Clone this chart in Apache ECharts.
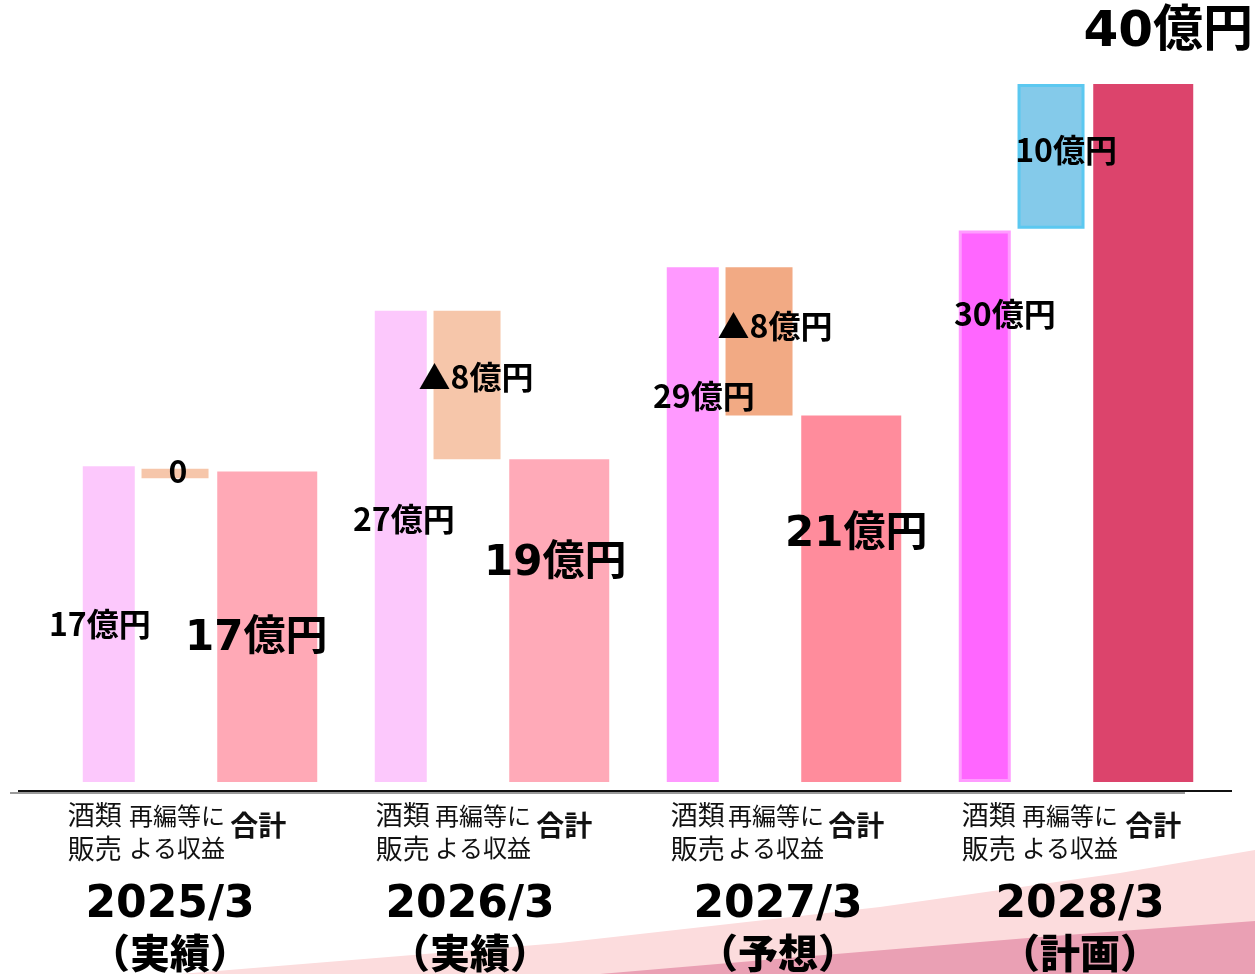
<!DOCTYPE html>
<html><head><meta charset="utf-8">
<script src="https://cdn.jsdelivr.net/npm/echarts@6/dist/echarts.min.js"></script>
<style>html,body{margin:0;padding:0;background:#fff}#c{width:1255px;height:974px}</style>
</head><body><div id="c"></div>
<script>
// ---- data (億円) ----
const categories = ['2025/3', '2026/3', '2027/3', '2028/3'];
const periodNotes = ['（実績）', '（実績）', '（予想）', '（計画）'];
const subLabels = ['酒類\n販売', '再編等に\nよる収益', '合計'];
const salesValues = [18.1, 27.0, 29.5, 31.6];
const reorgBase = [17.4, 18.5, 21.0, 31.7];
const reorgValues = [0.55, 8.5, 8.5, 8.3];
const totalValues = [17.8, 18.5, 21.0, 40.0];
const salesLabels = ['17億円', '27億円', '29億円', '30億円'];
const reorgLabels = ['0', '▲8億円', '▲8億円', '10億円'];
const totalLabels = ['17億円', '19億円', '21億円', '40億円'];

// ---- styles / layout ----
const FONT = '"Noto Sans CJK JP", "Noto Sans", sans-serif';
const FONT_NUM = '"DejaVu Sans", "Noto Sans CJK JP", sans-serif';
const salesColors = ['#FCC8FC', '#FCC8FC', '#FF99FF', '#FF66FF'];
const reorgColors = ['#F6C6AA', '#F6C6AA', '#F2AA84', '#84CAEA'];
const totalColors = ['#FFA9B6', '#FFAAB8', '#FF8C9C', '#DC446C'];
const salesLabelOffsets = [[-9, 0], [3, -28], [11, -129], [20, -192]];
const reorgLabelOffsets = [[3, -3], [9, -8], [16, -16], [15, -7]];
const totalLabelOffsets = [[-11, 12], [-4, -56], [5, -64], [25, -21]];
const subLabelOffsets = [[-14, 2, 5, 4], [2, 16, 17, 19], [-9, 5, 5, 10]];
const yearShift = [-30, -22, -6, 4];
const W = [52, 67, 100];
const GAP = '13%';

const chart = echarts.init(document.getElementById('c'));

const midLabel = {show: true, position: 'inside', color: '#000', fontFamily: FONT, fontWeight: 'bold', fontSize: 32};
const bigLabel = {show: true, position: 'inside', color: '#000', fontFamily: FONT_NUM, fontWeight: 'bold', fontSize: 42};

function subLabelSeries(stack, idx, width, opts) {
  return {
    type: 'bar', stack: stack, barWidth: width, barGap: GAP, silent: true,
    data: categories.map((c, i) => ({value: 0, label: {offset: [subLabelOffsets[idx][i], 0]}})),
    itemStyle: {color: 'rgba(0,0,0,0)'},
    label: Object.assign({show: true, position: 'bottom', color: '#111', fontFamily: FONT,
      formatter: () => subLabels[idx]}, opts)
  };
}

const rich = {};
yearShift.forEach((s, i) => {
  const pad = s < 0 ? [0, -2 * s, 0, 0] : [0, 0, 0, 2 * s];
  rich['y' + i] = {fontFamily: FONT_NUM, fontWeight: 'bold', fontSize: 44, lineHeight: 46, color: '#000', padding: pad};
  rich['p' + i] = {fontFamily: FONT, fontWeight: 900, fontSize: 40, lineHeight: 48, color: '#000', padding: pad};
});

const option = {
  animation: false,
  grid: {left: 54, right: 33, top: 84, bottom: 192},
  xAxis: {
    type: 'category', data: categories,
    axisLine: {show: false}, axisTick: {show: false},
    axisLabel: {
      margin: 101,
      formatter: (v, i) => '{y' + i + '|' + v + '}\n{p' + i + '|' + periodNotes[i] + '}',
      rich: rich
    }
  },
  yAxis: {type: 'value', min: 0, max: 40, show: false, splitLine: {show: false}},
  graphic: [
    {type: 'polygon', z: -10, silent: true,
     shape: {points: [[180, 974], [560, 943], [880, 907], [1120, 873], [1255, 850], [1255, 974]]},
     style: {fill: '#FCDCDD'}},
    {type: 'polygon', z: -9, silent: true,
     shape: {points: [[600, 974], [800, 957], [1040, 937], [1255, 921], [1255, 974]]},
     style: {fill: '#EAA0B4'}},
    {type: 'line', silent: true, shape: {x1: 10, y1: 793, x2: 1185, y2: 793}, style: {stroke: '#9a9a9a', lineWidth: 2}},
    {type: 'line', silent: true, shape: {x1: 18, y1: 791, x2: 1232, y2: 791}, style: {stroke: '#111', lineWidth: 2}}
  ],
  series: [
    subLabelSeries('a', 0, W[0], {distance: 16, fontSize: 27, lineHeight: 34}),
    {
      name: '酒類販売', type: 'bar', stack: 'a', barWidth: W[0], barGap: GAP,
      data: salesValues.map((v, i) => ({
        value: v,
        itemStyle: Object.assign({color: salesColors[i]}, i === 3 ? {borderColor: '#FF9CFF', borderWidth: 3} : {}),
        label: {offset: salesLabelOffsets[i]}
      })),
      label: Object.assign({}, midLabel, {formatter: p => salesLabels[p.dataIndex]})
    },
    subLabelSeries('b', 1, W[1], {distance: 18, fontSize: 24, lineHeight: 32}),
    {
      name: 'base', type: 'bar', stack: 'b', barWidth: W[1], barGap: GAP, silent: true,
      data: reorgBase, itemStyle: {color: 'rgba(0,0,0,0)'}
    },
    {
      name: '再編等による収益', type: 'bar', stack: 'b', barWidth: W[1], barGap: GAP,
      data: reorgValues.map((v, i) => ({
        value: v,
        itemStyle: Object.assign({color: reorgColors[i]}, i === 3 ? {borderColor: '#5BC8F0', borderWidth: 3} : {}),
        label: {offset: reorgLabelOffsets[i]}
      })),
      label: Object.assign({}, midLabel, {formatter: p => reorgLabels[p.dataIndex]})
    },
    subLabelSeries('c', 2, W[2], {distance: 28, fontSize: 28, lineHeight: 30, fontWeight: 'bold'}),
    {
      name: '合計', type: 'bar', stack: 'c', barWidth: W[2], barGap: GAP,
      data: totalValues.map((v, i) => ({
        value: v,
        itemStyle: {color: totalColors[i]},
        label: i === 3
          ? {position: 'top', distance: 5, fontSize: 50, lineHeight: 50, offset: totalLabelOffsets[i]}
          : {offset: totalLabelOffsets[i]}
      })),
      label: Object.assign({}, bigLabel, {formatter: p => totalLabels[p.dataIndex]})
    }
  ]
};
chart.setOption(option);
</script>
</body></html>
